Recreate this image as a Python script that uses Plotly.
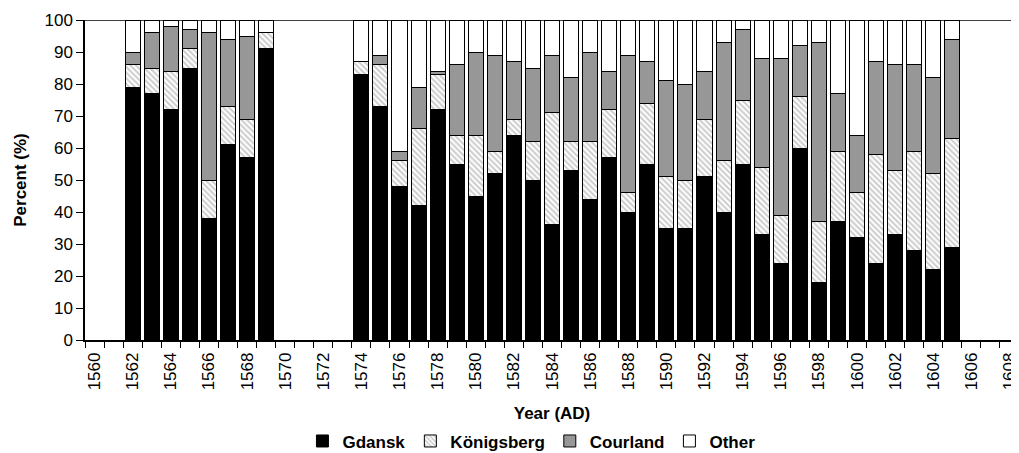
import plotly.graph_objects as go

years = list(range(1562, 1570)) + list(range(1574, 1606))
gdansk = [79, 77, 72, 85, 38, 61, 57, 91,
          83, 73, 48, 42, 72, 55, 45, 52, 64, 50,
          36, 53, 44, 57, 40, 55, 35, 35, 51, 40,
          55, 33, 24, 60, 18, 37, 32, 24, 33, 28,
          22, 29]
konigsberg = [7, 8, 12, 6, 12, 12, 12, 5,
              4, 13, 8, 24, 11, 9, 19, 7, 5, 12,
              35, 9, 18, 15, 6, 19, 16, 15, 18, 16,
              20, 21, 15, 16, 19, 22, 14, 34, 20, 31,
              30, 34]
courland = [4, 11, 14, 6, 46, 21, 26, 0,
            0, 3, 3, 13, 1, 22, 26, 30, 18, 23,
            18, 20, 28, 12, 43, 13, 30, 30, 15, 37,
            22, 34, 49, 16, 56, 18, 18, 29, 33, 27,
            30, 31]
other = [100 - a - b - c for a, b, c in zip(gdansk, konigsberg, courland)]

tick_years = list(range(1560, 1609, 2))
tick_labels = [str(y) for y in tick_years]
y_ticks = list(range(0, 101, 10))

FONT = "Arial, Liberation Sans, sans-serif"
line = dict(color="black", width=1)
W = 0.79

fig = go.Figure()
fig.add_bar(x=years, y=gdansk, name="Gdansk", width=W,
            marker=dict(color="black", line=line))
fig.add_bar(x=years, y=konigsberg, name="Königsberg", width=W,
            marker=dict(color="white", line=line,
                        pattern=dict(shape="\\", fgcolor="#9a9a9a", bgcolor="white",
                                     size=4, solidity=0.5)))
fig.add_bar(x=years, y=courland, name="Courland", width=W,
            marker=dict(color="#979797", line=line))
fig.add_bar(x=years, y=other, name="Other", width=W,
            marker=dict(color="white", line=line))

fig.update_layout(
    width=1011, height=445,
    barmode="stack",
    plot_bgcolor="white", paper_bgcolor="white",
    margin=dict(l=77, r=0, t=12, b=113, autoexpand=False),
    font=dict(family=FONT, size=17, color="black"),
    showlegend=True,
    legend=dict(orientation="h", x=0.478, xanchor="center",
                yref="container", y=0.026, yanchor="middle",
                font=dict(family=FONT, size=17, color="black", weight="bold"),
                traceorder="normal", itemwidth=30, tracegroupgap=0),
    shapes=[dict(type="line", xref="paper", yref="y", x0=0, x1=1, y0=100, y1=100,
                 line=dict(color="black", width=1.5))],
)
fig.update_xaxes(
    range=[1559.5, 1608.5], automargin=False,
    tickmode="array", tickvals=tick_years, ticktext=tick_labels,
    tickangle=-90, ticks="", ticklen=0, ticklabelstandoff=4,
    tickfont=dict(family=FONT, size=17),
    minor=dict(tickmode="linear", tick0=1559.5, dtick=1, ticks="outside",
               ticklen=6, tickcolor="black", tickwidth=1, showgrid=False),
    showline=True, linecolor="black", linewidth=1.5,
    showgrid=False, zeroline=False,
    title=dict(text="Year (AD)", font=dict(family=FONT, size=17, weight="bold"), standoff=18),
)
fig.update_yaxes(
    range=[0, 100], automargin=False, tickmode="array", tickvals=y_ticks,
    ticks="outside", ticklen=7, tickcolor="black", tickwidth=1,
    tickfont=dict(family=FONT, size=17),
    showline=True, linecolor="black", linewidth=1.5,
    showgrid=False, zeroline=False,
    title=dict(text="Percent (%)", font=dict(family=FONT, size=17, weight="bold"), standoff=14),
)

fig.write_html("out.html")
